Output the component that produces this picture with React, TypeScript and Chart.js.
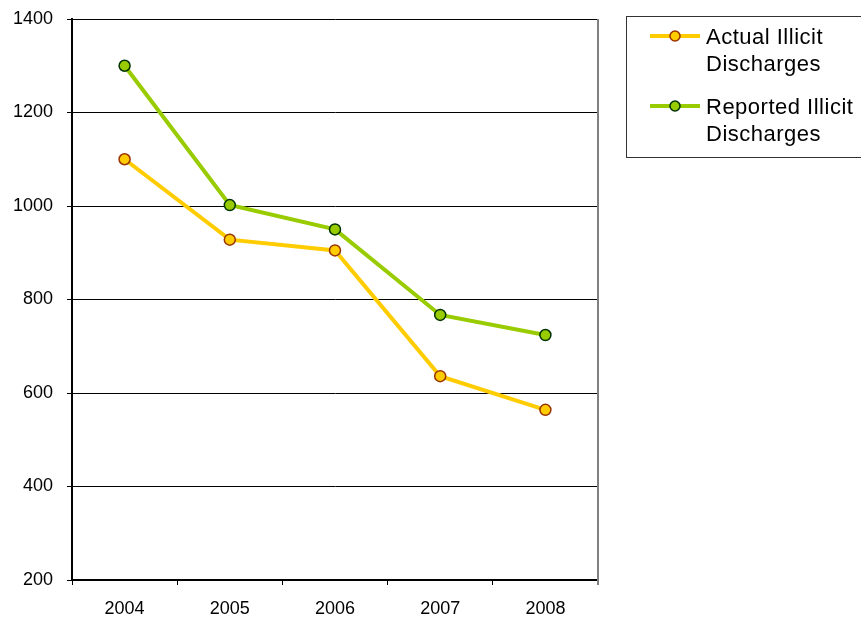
import React, { useEffect, useRef } from "react";
import { Chart, registerables } from "chart.js";

Chart.register(...registerables);

const years = ["2004", "2005", "2006", "2007", "2008"];
const actualValues = [1100, 928, 905, 636, 564];
const reportedValues = [1300, 1002, 950, 767, 724];
const actualLabel = ["Actual Illicit", "Discharges"];
const reportedLabel = ["Reported Illicit", "Discharges"];
const yMin = 200;
const yMax = 1400;
const yStep = 200;

const FONT = "'Liberation Sans', Arial, sans-serif";

const frameAndLegend = {
  id: "frameAndLegend",
  afterDraw(chart: any) {
    const { ctx, chartArea } = chart;
    ctx.save();
    // right border of plot area
    ctx.strokeStyle = "#808080";
    ctx.lineWidth = 2;
    ctx.beginPath();
    ctx.moveTo(chartArea.right, chartArea.top);
    ctx.lineTo(chartArea.right, chartArea.bottom + 5);
    ctx.stroke();

    // legend box
    const x0 = chartArea.right + 28.5;
    const y0 = 16.5;
    const x1 = chart.width + 10;
    const y1 = 157.5;
    ctx.strokeStyle = "#333333";
    ctx.lineWidth = 1;
    ctx.strokeRect(x0, y0, x1 - x0, y1 - y0);

    chart.data.datasets.forEach((ds: any, i: number) => {
      const ly = y0 + 19.5 + i * 70;
      const lx0 = x0 + 23.5;
      const lx1 = lx0 + 50;
      ctx.strokeStyle = ds.borderColor;
      ctx.lineWidth = 4;
      ctx.beginPath();
      ctx.moveTo(lx0, ly);
      ctx.lineTo(lx1, ly);
      ctx.stroke();
      ctx.beginPath();
      ctx.arc((lx0 + lx1) / 2, ly, 5, 0, Math.PI * 2);
      ctx.fillStyle = ds.pointBackgroundColor;
      ctx.fill();
      ctx.lineWidth = 1.5;
      ctx.strokeStyle = ds.pointBorderColor;
      ctx.stroke();

      ctx.fillStyle = "#000";
      ctx.font = `22px ${FONT}`;
      (ctx as any).letterSpacing = "0.5px";
      ctx.textBaseline = "middle";
      ctx.textAlign = "left";
      const lines: string[] = ds.legendLines;
      lines.forEach((t, j) => {
        ctx.fillText(t, lx1 + 6, ly + 2 + j * 27);
      });
    });
    ctx.restore();
  },
};

export default function App() {
  const ref = useRef<HTMLCanvasElement | null>(null);

  useEffect(() => {
    document.body.style.margin = "0";
    const canvas = ref.current;
    if (!canvas) return;
    const chart = new Chart(canvas, {
      type: "line",
      data: {
        labels: years,
        datasets: [
          {
            label: actualLabel.join(" "),
            legendLines: actualLabel,
            data: actualValues,
            borderColor: "#FFCC00",
            backgroundColor: "#FFCC00",
            pointBackgroundColor: "#FFCC00",
            pointBorderColor: "#993300",
            pointBorderWidth: 1.5,
            pointRadius: 5.5,
            borderWidth: 4,
            tension: 0,
          } as any,
          {
            label: reportedLabel.join(" "),
            legendLines: reportedLabel,
            data: reportedValues,
            borderColor: "#99CC00",
            backgroundColor: "#99CC00",
            pointBackgroundColor: "#99CC00",
            pointBorderColor: "#003300",
            pointBorderWidth: 1.5,
            pointRadius: 5.5,
            borderWidth: 4,
            tension: 0,
          } as any,
        ],
      },
      options: {
        responsive: false,
        animation: false,
        layout: { padding: { top: 19, right: 263, left: 0, bottom: 0 } },
        plugins: {
          legend: { display: false },
          tooltip: { enabled: false },
        },
        scales: {
          x: {
            type: "category",
            offset: true,
            grid: {
              offset: true,
              drawOnChartArea: false,
              drawTicks: true,
              tickLength: 5,
              color: "#000",
              tickColor: "#000",
            },
            border: { color: "#000", width: 2 },
            ticks: {
              color: "#000",
              font: { family: FONT, size: 18 },
              padding: 13,
              maxRotation: 0,
            },
            afterFit(scale: any) {
              scale.height = 37;
              scale.paddingLeft = 0;
              scale.paddingRight = 0;
            },
          },
          y: {
            min: yMin,
            max: yMax,
            ticks: {
              stepSize: yStep,
              color: "#000",
              font: { family: FONT, size: 18 },
              padding: 14,
              callback: (v: any) => String(v),
            },
            grid: {
              color: "#000",
              lineWidth: 1,
              tickLength: 5,
              tickColor: "#000",
            },
            border: { color: "#000", width: 2 },
            afterFit(scale: any) {
              scale.width = 72;
              scale.paddingTop = 0;
              scale.paddingBottom = 0;
            },
          },
        },
      },
      plugins: [frameAndLegend],
    });
    return () => chart.destroy();
  }, []);

  return (
    <div style={{ position: "fixed", left: 0, top: 0, width: 861, height: 617, background: "#fff" }}>
      <canvas ref={ref} width={861} height={617} style={{ display: "block" }} />
    </div>
  );
}
